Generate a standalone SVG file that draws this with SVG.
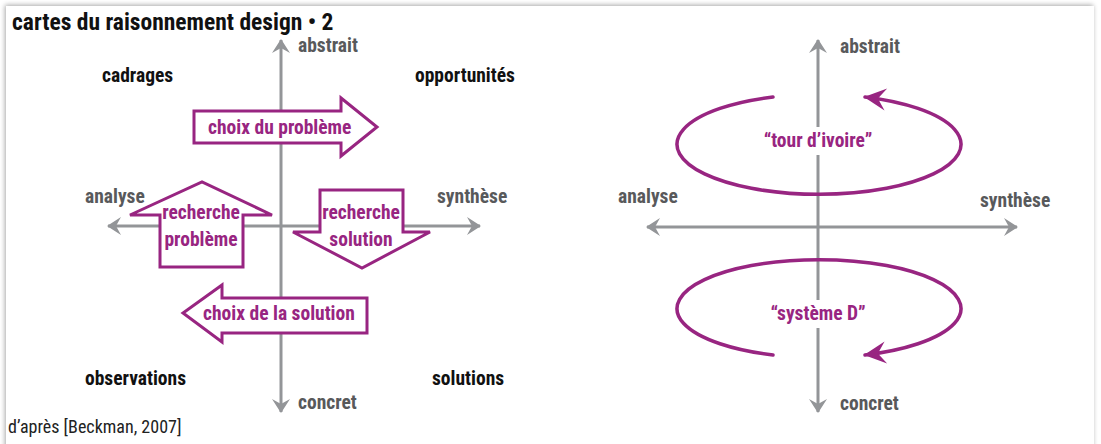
<svg xmlns="http://www.w3.org/2000/svg" width="1101" height="444" viewBox="0 0 1101 444">
<defs>
  <style>
    text { font-family: "Liberation Sans Narrow", "Arial Narrow", "Roboto Condensed", "Liberation Sans", sans-serif; font-weight: bold; }
    .title { font-size: 23.5px; fill: #111; }
    .corner { font-size: 19.5px; fill: #111; }
    .axlab { font-size: 19.5px; fill: #58595b; }
    .mag { font-size: 19.5px; fill: #982581; }
    .foot { font-size: 18px; fill: #222; font-weight: normal; }
    .axis { stroke: #939598; stroke-width: 3; fill: none; }
    .box { fill: #fff; stroke: #982581; stroke-width: 3; stroke-linejoin: miter; }
    .loop { fill: none; stroke: #982581; stroke-width: 3.5; stroke-linecap: round; }
  </style>
  <marker id="ga" viewBox="-14 -10 16 20" refX="0" refY="0" markerWidth="16" markerHeight="20" markerUnits="userSpaceOnUse" orient="auto">
    <path d="M1,0 L-13,-9 L-8,0 L-13,9 Z" fill="#939598"/>
  </marker>
  <marker id="ma" viewBox="-24 -14 26 28" refX="0" refY="0" markerWidth="26" markerHeight="28" markerUnits="userSpaceOnUse" orient="auto">
    <path d="M1,0 L-21,-11 L-13,0 L-21,11 Z" fill="#982581"/>
  </marker>
  <filter id="sh" x="-5%" y="-5%" width="110%" height="110%">
    <feGaussianBlur in="SourceAlpha" stdDeviation="2.5"/>
    <feOffset dx="-1" dy="-1" result="b"/>
    <feComponentTransfer><feFuncA type="linear" slope="0.35"/></feComponentTransfer>
    <feMerge><feMergeNode/><feMergeNode in="SourceGraphic"/></feMerge>
  </filter>
</defs>
<rect x="0" y="0" width="1101" height="444" fill="#fff"/>
<rect x="6" y="6" width="1088" height="450" fill="#fff" filter="url(#sh)"/>

<text class="title" x="12" y="30">cartes du raisonnement design • 2</text>

<g id="connectors">
  <line class="axis" x1="281" y1="226" x2="281" y2="40" marker-end="url(#ga)"/>
  <line class="axis" x1="281" y1="226" x2="281" y2="412" marker-end="url(#ga)"/>
  <line class="axis" x1="281" y1="226" x2="108" y2="226" marker-end="url(#ga)"/>
  <line class="axis" x1="281" y1="226" x2="480" y2="226" marker-end="url(#ga)"/>
  <line class="axis" x1="818" y1="227" x2="818" y2="40" marker-end="url(#ga)"/>
  <line class="axis" x1="818" y1="227" x2="818" y2="412" marker-end="url(#ga)"/>
  <line class="axis" x1="818" y1="227" x2="647" y2="227" marker-end="url(#ga)"/>
  <line class="axis" x1="818" y1="227" x2="1017" y2="227" marker-end="url(#ga)"/>
</g>

<g id="axis-labels-left">
  <text class="axlab" x="298" y="52">abstrait</text>
  <text class="axlab" x="298" y="409">concret</text>
  <text class="axlab" x="85" y="203">analyse</text>
  <text class="axlab" x="437" y="203">synthèse</text>
</g>

<g id="corners">
  <text class="corner" x="102" y="82">cadrages</text>
  <text class="corner" x="415" y="82">opportunités</text>
  <text class="corner" x="85" y="385">observations</text>
  <text class="corner" x="432" y="385">solutions</text>
</g>

<g id="choix-probleme">
  <polygon class="box" points="194,111 341,111 341,98 377,127 341,156 341,143 194,143"/>
  <text class="mag" x="208" y="134">choix du problème</text>
</g>

<g id="recherche-probleme">
  <polygon class="box" points="160,267 160,215 130,215 202,182 272,215 243,215 243,267"/>
  <text class="mag" x="201" y="219" text-anchor="middle">recherche</text>
  <text class="mag" x="201" y="246" text-anchor="middle">problème</text>
</g>

<g id="recherche-solution">
  <polygon class="box" points="320,190 403,190 403,232 430,232 362,268 293,232 320,232"/>
  <text class="mag" x="361" y="219" text-anchor="middle">recherche</text>
  <text class="mag" x="361" y="246" text-anchor="middle">solution</text>
</g>

<g id="choix-solution">
  <polygon class="box" points="367,298 222,298 222,285 183,313 222,342 222,333 367,333"/>
  <text class="mag" x="203" y="320">choix de la solution</text>
</g>

<g id="axis-labels-right">
  <text class="axlab" x="840" y="53">abstrait</text>
  <text class="axlab" x="840" y="410">concret</text>
  <text class="axlab" x="618" y="203">analyse</text>
  <text class="axlab" x="980" y="207">synthèse</text>
</g>

<g id="tour-ivoire">
  <path class="loop" d="M773,97 A142,50 0 1,0 865,97" marker-end="url(#ma)"/>
  <rect x="758" y="127" width="120" height="28" fill="#fff"/>
  <text class="mag" x="818" y="147" text-anchor="middle">“tour d’ivoire”</text>
</g>

<g id="systeme-d">
  <path class="loop" d="M773,355 A142,49 0 1,1 865,355" marker-end="url(#ma)"/>
  <rect x="764" y="300" width="110" height="28" fill="#fff"/>
  <text class="mag" x="818" y="320" text-anchor="middle">“système D”</text>
</g>

<text class="foot" x="8" y="433">d’après [Beckman, 2007]</text>
</svg>
